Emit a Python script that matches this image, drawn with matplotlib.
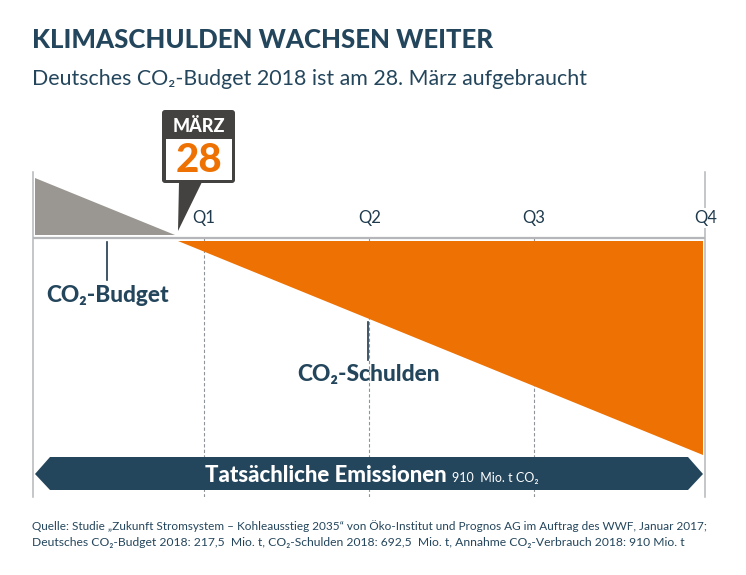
import matplotlib
matplotlib.use("Agg")
import matplotlib.pyplot as plt
from matplotlib.patches import FancyBboxPatch, Polygon, Rectangle

W, H = 746, 575

# Anteil am Jahr (x) und Mio. t CO2 (y)
budget_x = [0.003, 0.003, 0.212]
budget_y = [194, 10, 10]
debt_x = [0.216, 0.9975, 0.9975]
debt_y = [-10, -10, -702]
quarter_pos = [0.254, 0.5, 0.745, 1.0]
quarter_labels = ["Q1", "Q2", "Q3", "Q4"]

NAVY = "#24465c"
DARK = "#1f3a4d"
ORANGE = "#ee7203"
GREY = "#9a9691"
CHARCOAL = "#444240"
LINE = "#b4b6b9"

plt.rcParams["font.family"] = ["Lato", "DejaVu Sans"]
fig = plt.figure(figsize=(W / 100, H / 100), dpi=100, facecolor="white")

# Diagrammfläche: 33..705 px breit, 172..497 px hoch
ax = fig.add_axes([33 / W, 1 - 497 / H, 672 / W, 325 / H])
ax.set_xlim(0, 1)
ax.set_ylim(-838.4, 213.6)
ax.axis("off")

ax.fill(budget_x, budget_y, color=GREY, lw=0, zorder=2)
ax.fill(debt_x, debt_y, color=ORANGE, lw=0, zorder=2)
ax.axhline(0, color=LINE, lw=1.6, zorder=3)
ax.plot([0, 0], [-838.4, 213.6], color=LINE, lw=1.1, zorder=1, clip_on=False)
ax.plot([1, 1], [-838.4, 213.6], color=LINE, lw=1.1, zorder=1, clip_on=False)

for pos, lab in zip(quarter_pos, quarter_labels):
    if pos < 1:
        ax.plot([pos, pos], [-838.4, 0], color="#8f9499", lw=0.8, ls=(0, (3, 2)), zorder=1)
    ax.text(pos + 0.0005, 65, lab, ha="center", va="center", fontsize=12, color=DARK, zorder=5,
            bbox=dict(fc="white", ec="none", pad=1.5))

# Overlay in Pixelkoordinaten für Beschriftung und Kalender
ov = fig.add_axes([0, 0, 1, 1], facecolor="none")
ov.set_xlim(0, W)
ov.set_ylim(H, 0)
ov.axis("off")

ov.text(32, 40, "KLIMASCHULDEN WACHSEN WEITER", fontsize=18.5, fontweight="black", color=NAVY, va="center")
ov.text(32, 79, "Deutsches CO₂-Budget 2018 ist am 28. März aufgebraucht", fontsize=15.4, color=NAVY, va="center")

# Kalender
ov.add_patch(Polygon([[179, 182], [178, 231], [202, 182]], color=CHARCOAL, lw=0, zorder=6))
ov.add_patch(FancyBboxPatch((162, 110), 73, 73, boxstyle="round,pad=0,rounding_size=3", fc=CHARCOAL, ec="none", zorder=6))
ov.add_patch(Rectangle((166, 139), 66, 41, fc="white", ec="none", zorder=7))
ov.text(199, 127, "MÄRZ", fontsize=13, fontweight="black", color="white", ha="center", va="center", zorder=8)
ov.text(199, 160, "28", fontsize=29, fontweight="black", color=ORANGE, ha="center", va="center", zorder=8)

# Beschriftungen
ov.plot([107, 107], [242, 280], color=DARK, lw=1.2)
ov.text(108, 296, "CO₂-Budget", fontsize=16.3, fontweight="black", color=NAVY, ha="center", va="center")
ov.plot([368, 368], [322, 360], color=DARK, lw=1.2, zorder=4)
ov.text(369, 375, "CO₂-Schulden", fontsize=16.4, fontweight="black", color=NAVY, ha="center", va="center")

# Band unten
ov.add_patch(Polygon([[35, 474], [50, 457], [688, 457], [703, 474], [688, 490], [50, 490]], color=NAVY, lw=0, zorder=4))
ov.text(205, 476, "Tatsächliche Emissionen", fontsize=16, fontweight="black", color="white", va="center", zorder=5)
ov.text(452, 478, "910  Mio. t CO₂", fontsize=9, color="white", va="center", zorder=5)

# Quelle
src = [
    "Quelle: Studie „Zukunft Stromsystem – Kohleausstieg 2035“ von Öko-Institut und Prognos AG im Auftrag des WWF, Januar 2017;",
    "Deutsches CO₂-Budget 2018: 217,5  Mio. t, CO₂-Schulden 2018: 692,5  Mio. t, Annahme CO₂-Verbrauch 2018: 910 Mio. t",
]
ov.text(32, 526, src[0], fontsize=8.47, color=NAVY, va="center")
ov.text(32, 543, src[1], fontsize=8.72, color=NAVY, va="center")

fig.savefig("out.png", dpi=100)
